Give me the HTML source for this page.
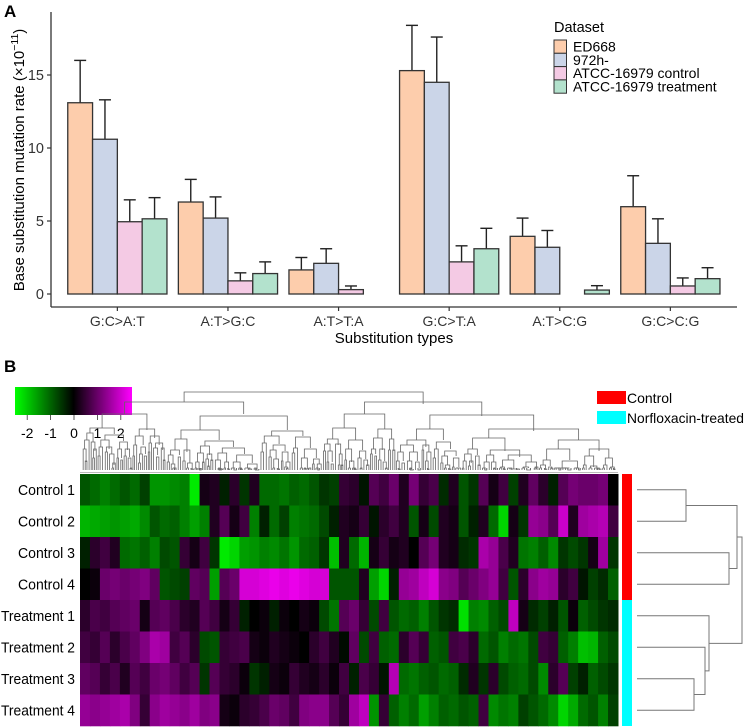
<!DOCTYPE html>
<html><head><meta charset="utf-8">
<style>
html,body{margin:0;padding:0;background:#fff;}
svg{display:block;font-family:"Liberation Sans",Arial,sans-serif;}
</style></head>
<body>
<svg id="fig" width="745" height="727" viewBox="0 0 745 727">
<g id="panelA"></g>
<g id="panelB"></g>
</svg>
<script>
// ---------- Panel A data ----------
const categories = ["G:C>A:T","A:T>G:C","A:T>T:A","G:C>T:A","A:T>C:G","G:C>C:G"];
const seriesNames = ["ED668","972h-","ATCC-16979 control","ATCC-16979 treatment"];
const ed668 = [13.1, 6.3, 1.65, 15.3, 3.95, 5.98];
const h972 = [10.6, 5.2, 2.1, 14.5, 3.2, 3.47];
const atccControl = [4.95, 0.9, 0.3, 2.2, 0, 0.55];
const atccTreatment = [5.15, 1.4, 0, 3.1, 0.27, 1.05];
const ed668Err = [16.0, 7.85, 2.5, 18.4, 5.2, 8.1];
const h972Err = [13.3, 6.65, 3.1, 17.6, 4.35, 5.15];
const atccControlErr = [6.45, 1.45, 0.55, 3.3, 0, 1.1];
const atccTreatmentErr = [6.6, 2.2, 0, 4.5, 0.57, 1.8];
const yTicks = [0, 5, 10, 15];

// ---------- Panel B data (z-scores, 54 column groups per sample) ----------
const sampleNames = ["Control 1","Control 2","Control 3","Control 4","Treatment 1","Treatment 2","Treatment 3","Treatment 4"];
const control1 = [-0.8,-1,-1.2,-1,-0.8,-1,-0.6,-1.4,-1.4,-1.3,-1.2,-2.2,0.2,0.3,-0.3,0.4,-0.5,0.3,-1,-1,-1.1,-0.9,-1,-0.8,-0.5,-0.6,0.5,
 0.4,-0.2,0.8,0.6,1,0.3,1.1,0.5,0.7,-0.4,0.3,-0.8,-0.5,0.8,0.2,0.6,-0.6,0.3,0.9,0.4,-0.3,0.8,1.1,1,1,1.1,0];
const control2 = [-1.7,-1.6,-1.5,-1.4,-1.5,-1.6,-1.3,-0.8,-1,-0.9,-1.2,-1.5,-1.2,0.3,0.8,0.2,0.6,-1.2,-0.3,-1,-0.6,-1.2,-1.1,-1,-0.7,-0.3,0.3,
 0.2,0.5,-0.2,0.4,0.6,0.3,-0.8,0.2,-0.7,0.3,0.2,-0.8,-0.3,0.3,-1,-2,0.2,-0.5,1.4,1.3,0.8,1.9,0.3,1.5,1.6,1.7,0.6];
const control3 = [-0.3,0.4,0.6,0.3,-1,-1.1,-0.9,-1.2,-0.7,-0.8,0.5,0.2,0.6,-0.5,-2.2,-2,-1.5,-1.4,-1.2,-1.3,-1.1,-1.4,-1,-0.9,-0.5,-1.8,0.3,
 -1,-1.7,0.2,0.5,0.2,0.3,0,0.8,1.1,0.3,0.2,-0.4,-0.5,1.6,1.4,0.7,0.3,-1.1,-1.2,-0.9,-1.3,-0.5,-0.7,-0.5,0.2,1.5,-0.5];
const control4 = [0,0.1,1,1.1,1,1.1,1.2,0.9,-0.8,-0.7,-0.6,0.9,0.8,-1.5,0.8,1,2,2,2.1,2.2,2.1,2.2,2.1,2,2,-0.8,-0.8,
 -0.8,0.3,-1.5,-2,-0.3,1.4,1.5,1.8,2,1.3,1.2,0.8,1,1.2,1.4,0.6,-0.8,0.4,1.3,1.5,1.4,0.4,0.6,-0.2,-0.6,-0.4,-0.9];
const treatment1 = [0.4,0.7,0.6,0.8,0.9,1,0.2,0.8,0.9,0.7,0.4,0.3,0.8,0.6,0.2,0.5,-0.3,0,0.1,-0.3,0.1,0,0.2,0.1,-0.7,-1.1,0.8,
 1,0.5,-0.7,0.6,-0.8,-1,-0.9,-1.2,-0.8,-0.5,-0.4,-2.1,-1.2,-1.3,-0.9,-0.7,1.8,0.2,-0.4,-0.6,-0.3,-0.8,0.1,-0.9,-0.7,-0.5,-0.4];
const treatment2 = [0.6,0.5,0.8,0.4,0.7,0.9,1.2,1.6,1.5,0.6,0.8,0.4,-0.7,-0.8,0.5,0.6,0.7,0.2,0.1,0.3,0.2,0.1,0,0.4,0.6,0.3,-0.1,
 0.9,-0.7,0.6,-0.9,-1,0.4,0.8,0.5,-0.9,-0.8,0.6,0.7,0.4,-1,-0.8,-1.2,-1,-1.1,-0.7,0.6,0.5,-0.9,-1.2,-1.8,-1.7,-0.9,-0.7];
const treatment3 = [0.9,0.8,0.5,0.7,0.3,0.8,0.6,1,1.1,0.9,0.6,0.8,-0.5,0.8,0.5,0.4,0.1,-0.5,-0.3,0.2,0.1,0.5,0.3,0.2,0.4,0.1,0.6,
 -0.3,0.7,0.5,-0.2,1.7,-1,-1.1,-0.9,-0.8,-1,-0.9,-0.4,0.3,-0.5,0.4,-0.7,-0.9,-1,-0.7,-1.3,0.4,0.8,-0.6,-0.3,-0.9,-0.7,-0.5];
const treatment4 = [1.4,1.3,1.4,1.5,1.6,1.2,0.5,1.3,1.5,1.4,1.3,1.5,1.2,1.3,0.2,0.1,0.4,0.5,0.7,1,0.9,0.6,1.2,1.3,1.3,0.8,0.5,
 1.5,1.8,-1.4,0.5,-0.9,-1.2,-1,-1.5,-1.2,-0.9,-1,-0.8,-0.9,0.6,-1.3,-1.1,-1.2,-0.6,-0.8,-1,-1.3,-2,-1.6,-1,-0.8,-1.2,-0.6];
const keyTicks = [-2,-1,0,1,2];

const NS = "http://www.w3.org/2000/svg";
function mk(parent, tag, attrs, text){
  const e = document.createElementNS(NS, tag);
  for (const k in attrs) e.setAttribute(k, attrs[k]);
  if (text !== undefined) e.textContent = text;
  parent.appendChild(e);
  return e;
}

// ---------- Panel A ----------
const A = document.getElementById('panelA');
const y0 = 294, pxPerUnit = 14.6;
const yScale = v => y0 - v * pxPerUnit;
const bandW = 110.6, xLeft = 51;
const xCenter = i => xLeft + (0.6 + i) * bandW;
const barW = 24.8;
const fills = ["#FDCDAC","#CBD5E8","#F4CAE4","#B3E2CD"];
const vals = [ed668, h972, atccControl, atccTreatment];
const errs = [ed668Err, h972Err, atccControlErr, atccTreatmentErr];

let t = mk(A,'text',{x:4,y:17,'font-size':17,'font-weight':'bold',fill:'#000'},'A');
 

let ax = mk(A,'line',{x1:51,y1:12,x2:51,y2:307,stroke:'#333','stroke-width':1.3});
 
ax = mk(A,'line',{x1:51,y1:307,x2:737,y2:307,stroke:'#333','stroke-width':1.3});
 

yTicks.forEach(v=>{
  const tk = mk(A,'line',{x1:47,y1:yScale(v),x2:51,y2:yScale(v),stroke:'#333','stroke-width':1.2});
   
  const lb = mk(A,'text',{x:44,y:yScale(v)+5,'font-size':14.5,'text-anchor':'end',fill:'#333'},String(v));
   
});

categories.forEach((c,i)=>{
  const xc = xCenter(i);
  const tk = mk(A,'line',{x1:xc,y1:307,x2:xc,y2:311,stroke:'#333','stroke-width':1.2});
   
  const lb = mk(A,'text',{x:xc,y:326,'font-size':14,'text-anchor':'middle',fill:'#333'},c);
   
  for (let s=0;s<4;s++){
    const v = vals[s][i], e = errs[s][i];
    const bx = xc - 2*barW + s*barW;
    const ex = bx + barW/2;
    if (e > v){
      const el = mk(A,'line',{x1:ex,y1:yScale(v),x2:ex,y2:yScale(e),stroke:'#222','stroke-width':1.4});
       
      const cap = mk(A,'line',{x1:ex-6,y1:yScale(e),x2:ex+6,y2:yScale(e),stroke:'#222','stroke-width':1.4});
       
    }
    const r = mk(A,'rect',{x:bx,y:yScale(v),width:barW,height:Math.max(0,y0-yScale(v)),fill:fills[s],stroke:'#333','stroke-width':1.3});
     
  }
});

t = mk(A,'text',{x:394,y:343,'font-size':15,'text-anchor':'middle',fill:'#000'},'Substitution types');
 
t = mk(A,'text',{x:0,y:0,'font-size':15,'text-anchor':'middle',fill:'#000',transform:'translate(24,160) rotate(-90)'});
 
mk(t,'tspan',{},'Base substitution mutation rate (×10');
mk(t,'tspan',{dy:-6,'font-size':10.5},'−11');
mk(t,'tspan',{dy:6},')');

// legend
const lg = mk(A,'g',{});
 
t = mk(lg,'text',{x:554,y:32,'font-size':14.5,fill:'#000'},'Dataset');
 
seriesNames.forEach((n,s)=>{
  const yy = 40 + s*13.3;
  const k = mk(lg,'rect',{x:554,y:yy,width:12.5,height:13.3,fill:fills[s],stroke:'#333','stroke-width':1});
   
  const l = mk(lg,'text',{x:573,y:yy+11.5,'font-size':14,fill:'#000'},n);
   
});

// ---------- Panel B ----------
const B = document.getElementById('panelB');
t = mk(B,'text',{x:4,y:372,'font-size':17,'font-weight':'bold',fill:'#000'},'B');
 

function colorOf(v){
  const f = Math.max(-1, Math.min(1, v/2.4));
  if (f < 0){ const g = Math.round(-f*255); return `rgb(0,${g},0)`; }
  const m = Math.round(f*255); return `rgb(${m},0,${m})`;
}
// color key
const defs = mk(B,'defs',{});
const grad = mk(defs,'linearGradient',{id:'keygrad',x1:0,x2:1,y1:0,y2:0});
mk(grad,'stop',{offset:'0%','stop-color':'#00ff00'});
mk(grad,'stop',{offset:'50%','stop-color':'#000000'});
mk(grad,'stop',{offset:'100%','stop-color':'#ff00ff'});
const kx0 = 15, kx1 = 132, kc = 74, kUnit = 23.4;
let kr = mk(B,'rect',{x:kx0,y:387,width:kx1-kx0,height:28,fill:'url(#keygrad)'});
 
keyTicks.forEach(v=>{
  const x = kc + v*kUnit;
  const tk = mk(B,'line',{x1:x,y1:415,x2:x,y2:420,stroke:'#333','stroke-width':0.8});
   
  const lb = mk(B,'text',{x:x,y:438,'font-size':14,'text-anchor':'middle',fill:'#000'},String(v));
   
});

// group legend
let gr = mk(B,'rect',{x:597,y:391,width:29,height:13,fill:'#ff0000'});
 
t = mk(B,'text',{x:627,y:403,'font-size':14,fill:'#000'},'Control');
 
gr = mk(B,'rect',{x:597,y:411,width:29,height:13,fill:'#00ffff'});
 
t = mk(B,'text',{x:627,y:423,'font-size':14,fill:'#000',textLength:117,lengthAdjust:'spacingAndGlyphs'},'Norfloxacin-treated');
 

// heatmap
const rows = [control1,control2,control3,control4,treatment1,treatment2,treatment3,treatment4];
const hx0 = 80, hx1 = 618, hy0 = 474, hy1 = 726;
const rowH = (hy1-hy0)/rows.length;
const nCols = control1.length;
const colW = (hx1-hx0)/nCols;
const hm = mk(B,'g',{});
 
rows.forEach((row,r)=>{
  row.forEach((v,c)=>{
    const cell = mk(hm,'rect',{x:hx0+c*colW,y:hy0+r*rowH,width:colW+0.5,height:rowH+0.3,fill:colorOf(v)});
     
  });
  const lb = mk(B,'text',{x:75,y:hy0+r*rowH+rowH/2+5,'font-size':15,'text-anchor':'end',fill:'#000',textLength:r<4?57:74,lengthAdjust:'spacingAndGlyphs'},sampleNames[r]);
   
});
mk(B,'line',{x1:hx0,y1:hy0-1.5,x2:hx1,y2:hy0-1.5,stroke:'#bbb','stroke-width':1});

// group side bar
gr = mk(B,'rect',{x:622,y:hy0,width:10,height:rowH*4,fill:'#ff0000'});
 
gr = mk(B,'rect',{x:622,y:hy0+rowH*4,width:10,height:rowH*4,fill:'#00ffff'});
 

// row dendrogram
const rd = mk(B,'g',{fill:'none',stroke:'#777','stroke-width':1});
 
const rc = i => hy0 + rowH*i + rowH/2;
function join(xa,ya,xb,yb,xj){ mk(rd,'path',{d:`M${xa},${ya}H${xj}V${yb}H${xb}`}); return (ya+yb)/2; }
const lx = 637;
const n12 = join(lx,rc(0),lx,rc(1),686);
const n34 = join(lx,rc(2),lx,rc(3),729);
const nC = join(686,n12,729,n34,737);
const nT34 = join(lx,rc(6),lx,rc(7),694);
const nT2 = join(lx,rc(5),694,nT34,705);
const nT1 = join(lx,rc(4),705,nT2,709);
join(737,nC,709,nT1,742);

// column dendrogram (decorative structure)
const cd = mk(B,'g',{fill:'none',stroke:'#666','stroke-width':0.8});
 
const splits = [0.45,0.35,0.6,0.3,0.55,0.7,0.4,0.5,0.25,0.65,0.45,0.55,0.35,0.6];
let si = 0;
function tree(l,r,y,depth){
  const bottom = 470;
  if (r-l < 3 || depth > 9){ mk(cd,'line',{x1:(l+r)/2,y1:y,x2:(l+r)/2,y2:bottom}); return (l+r)/2; }
  const f = splits[si++ % splits.length];
  const m = l + (r-l)*f;
  const dy = depth < 3 ? 10 + depth*2 : 5 + (si%4)*2;
  const yc = Math.min(bottom-2, y + dy);
  const a = tree(l,m,yc,depth+1), b = tree(m,r,yc + (si%3),depth+1);
  mk(cd,'path',{d:`M${a},${yc}V${y}H${b}V${yc+(si%3)}`});
  return (a+b)/2;
}
tree(hx0+2,hx1-2,392,0);
</script>
</body></html>
